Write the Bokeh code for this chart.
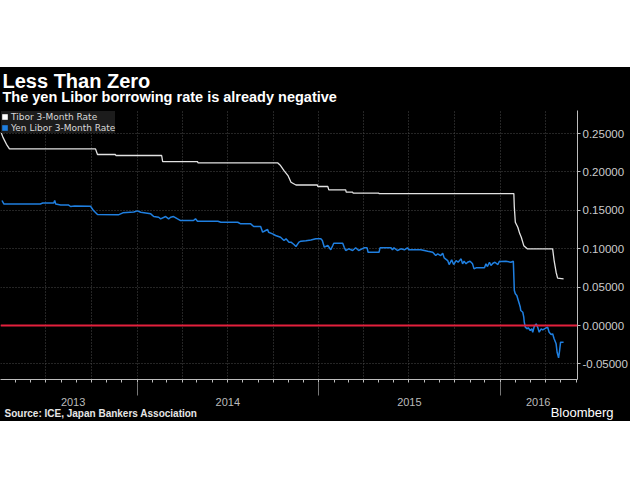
import pandas as pd
from bokeh.plotting import figure
from bokeh.layouts import column, row
from bokeh.models import (Range1d, LinearAxis, DatetimeAxis, FixedTicker, DatetimeTickFormatter,
                          NumeralTickFormatter, Grid, Span, Label, Legend, LegendItem)
from bokeh.embed import file_html
from bokeh.resources import INLINE

# ---------------- data ----------------
title_text = "Less Than Zero"
subtitle_text = "The yen Libor borrowing rate is already negative"
source_text = "Source: ICE, Japan Bankers Association"
brand_text = "Bloomberg"
series_names = ["Tibor 3-Month Rate", "Yen Libor 3-Month Rate"]

tibor_dates = ["2013-04-02", "2013-04-06", "2013-04-13", "2013-04-19", "2013-10-09", "2013-10-13",
               "2013-11-18", "2013-11-19", "2014-02-19", "2014-02-21", "2014-05-02", "2014-05-03",
               "2014-10-10", "2014-10-16", "2014-10-23", "2014-10-31", "2014-11-06", "2014-11-16",
               "2014-12-29", "2014-12-30", "2015-01-19", "2015-01-21", "2015-02-24", "2015-02-25",
               "2015-03-10", "2015-03-11", "2015-05-01", "2015-05-02", "2016-01-28", "2016-01-29",
               "2016-01-31", "2016-02-05", "2016-02-09", "2016-02-12", "2016-02-17", "2016-02-24",
               "2016-04-15", "2016-04-18", "2016-04-22", "2016-04-25", "2016-05-07"]
tibor_rates = [0.2520, 0.2450, 0.2360, 0.2300, 0.2300, 0.2227,
               0.2227, 0.2214, 0.2214, 0.2135, 0.2135, 0.2119,
               0.2119, 0.2083, 0.2018, 0.1953, 0.1866, 0.1830,
               0.1830, 0.1810, 0.1810, 0.1767, 0.1767, 0.1736,
               0.1736, 0.1725, 0.1725, 0.1718, 0.1718, 0.1540,
               0.1345, 0.1280, 0.1194, 0.1150, 0.1040, 0.0999,
               0.0999, 0.0846, 0.0694, 0.0616, 0.0608]

libor_dates = ["2013-04-04", "2013-04-08", "2013-05-11", "2013-06-20", "2013-06-25", "2013-07-17",
               "2013-07-19", "2013-07-21", "2013-07-31", "2013-08-16", "2013-08-20", "2013-08-28",
               "2013-09-29", "2013-10-05", "2013-10-13", "2013-11-24", "2013-12-03", "2013-12-25",
               "2014-01-01", "2014-01-08", "2014-01-28", "2014-02-03", "2014-02-13", "2014-02-17",
               "2014-02-27", "2014-03-05", "2014-03-09", "2014-03-15", "2014-03-23", "2014-03-29",
               "2014-04-24", "2014-04-28", "2014-05-02", "2014-06-12", "2014-06-18", "2014-07-22",
               "2014-07-28", "2014-08-17", "2014-08-23", "2014-09-06", "2014-09-10", "2014-09-16",
               "2014-09-20", "2014-09-22", "2014-09-30", "2014-10-06", "2014-10-16", "2014-10-23",
               "2014-10-27", "2014-11-02", "2014-11-06", "2014-11-12", "2014-11-16", "2014-11-22",
               "2014-11-26", "2014-12-06", "2014-12-16", "2014-12-26", "2015-01-05", "2015-01-08",
               "2015-01-12", "2015-01-19", "2015-01-25", "2015-01-29", "2015-01-31", "2015-02-18",
               "2015-02-21", "2015-02-24", "2015-03-02", "2015-03-10", "2015-03-16", "2015-03-22",
               "2015-04-02", "2015-04-08", "2015-04-10", "2015-05-02", "2015-05-04", "2015-05-26",
               "2015-05-29", "2015-06-01", "2015-06-08", "2015-06-15", "2015-06-22", "2015-06-28",
               "2015-07-01", "2015-07-25", "2015-08-01", "2015-08-08", "2015-08-18", "2015-08-24",
               "2015-08-28", "2015-09-03", "2015-09-07", "2015-09-10", "2015-09-17", "2015-09-20",
               "2015-09-25", "2015-09-29", "2015-10-04", "2015-10-08", "2015-10-14", "2015-10-17",
               "2015-10-20", "2015-10-24", "2015-10-27", "2015-11-01", "2015-11-06", "2015-11-09",
               "2015-11-13", "2015-11-30", "2015-12-03", "2015-12-06", "2015-12-10", "2015-12-13",
               "2015-12-17", "2015-12-21", "2015-12-27", "2015-12-30", "2016-01-02", "2016-01-12",
               "2016-01-22", "2016-01-27", "2016-01-29", "2016-01-31", "2016-02-03", "2016-02-06",
               "2016-02-08", "2016-02-10", "2016-02-11", "2016-02-15", "2016-02-17", "2016-02-18",
               "2016-02-20", "2016-02-24", "2016-02-26", "2016-03-01", "2016-03-04", "2016-03-06",
               "2016-03-09", "2016-03-13", "2016-03-16", "2016-03-19", "2016-03-23", "2016-03-26",
               "2016-04-02", "2016-04-05", "2016-04-08", "2016-04-12", "2016-04-15", "2016-04-18",
               "2016-04-22", "2016-04-24", "2016-04-27", "2016-04-29", "2016-05-01", "2016-05-07"]
libor_rates = [0.1628, 0.1582, 0.1582, 0.1582, 0.1595, 0.1595,
               0.1628, 0.1582, 0.1569, 0.1569, 0.1550, 0.1556,
               0.1553, 0.1497, 0.1445, 0.1441, 0.1467, 0.1478,
               0.1493, 0.1475, 0.1454, 0.1419, 0.1410, 0.1389,
               0.1419, 0.1389, 0.1410, 0.1419, 0.1389, 0.1367,
               0.1367, 0.1389, 0.1358, 0.1358, 0.1345, 0.1345,
               0.1324, 0.1324, 0.1289, 0.1289, 0.1215, 0.1237,
               0.1250, 0.1215, 0.1194, 0.1172, 0.1150, 0.1107,
               0.1129, 0.1085, 0.1085, 0.1055, 0.1029, 0.1085,
               0.1098, 0.1103, 0.1113, 0.1129, 0.1129, 0.1107,
               0.1020, 0.1042, 0.0986, 0.1042, 0.1072, 0.1072,
               0.1020, 0.0977, 0.0999, 0.0977, 0.1012, 0.0977,
               0.1012, 0.1012, 0.0954, 0.0954, 0.1012, 0.1012,
               0.0986, 0.1012, 0.0977, 0.0999, 0.0986, 0.1012,
               0.0986, 0.0986, 0.0977, 0.0967, 0.0954, 0.0911,
               0.0934, 0.0911, 0.0941, 0.0881, 0.0846, 0.0794,
               0.0855, 0.0794, 0.0846, 0.0824, 0.0868, 0.0803,
               0.0837, 0.0803, 0.0824, 0.0837, 0.0803, 0.0738,
               0.0751, 0.0751, 0.0803, 0.0768, 0.0824, 0.0781,
               0.0811, 0.0824, 0.0794, 0.0837, 0.0833, 0.0837,
               0.0824, 0.0837, 0.0456, 0.0413, 0.0391, 0.0326,
               0.0283, 0.0238, 0.0195, 0.0173, 0.0108, 0.0043,
               -0.0022, -0.0043, -0.0030, -0.0065, -0.0043, -0.0087,
               -0.0013, 0.0022, -0.0022, -0.0087, -0.0043, -0.0056,
               -0.0030, -0.0022, -0.0087, -0.0117, -0.0108, -0.0173,
               -0.0238, -0.0348, -0.0421, -0.0326, -0.0217, -0.0217]

y_ticks = [-0.05, 0.0, 0.05, 0.10, 0.15, 0.20, 0.25]
year_label_dates = ["2013-08-25", "2014-07-02", "2015-07-02", "2016-03-17"]
year_start_dates = ["2014-01-01", "2015-01-01", "2016-01-01"]
x_start, x_end = "2013-04-01", "2016-06-04"
y_min, y_max = -0.0703, 0.28

# ---------------- helpers ----------------
def ms(d):
    return pd.Timestamp(d).timestamp() * 1000.0

FONT = "Liberation Sans"
BG = "#000000"
TIBOR_COLOR = "#e2e2e2"
LIBOR_COLOR = "#1f7fe0"
GRID = "#4a4a4a"
AXIS = "#bdbdbd"
W = 630
NAN = float("nan")

month_ticks = [ms(d) for d in pd.date_range("2013-05-01", "2016-06-01", freq="MS")]
quarter_ticks = [ms(d) for d in pd.date_range("2013-07-01", "2016-04-01", freq="QS")]


def strip(height, alpha=1.0):
    f = figure(width=W, height=height, x_axis_type=None, y_axis_type=None,
               x_range=Range1d(0, 1), y_range=Range1d(0, 1),
               output_backend="svg", toolbar_location=None, min_border=0,
               background_fill_color=BG, border_fill_color=BG,
               background_fill_alpha=alpha, border_fill_alpha=alpha,
               outline_line_color=None)
    return f


# ---- header strip ----
top = strip(43)
top.add_layout(Label(x=2, y=30, x_units="screen", y_units="screen", text=title_text,
                     text_font=FONT, text_font_style="bold", text_font_size="20px",
                     text_color="#ffffff", text_baseline="middle"))
top.add_layout(Label(x=2, y=14, x_units="screen", y_units="screen", text=subtitle_text,
                     text_font=FONT, text_font_style="bold", text_font_size="14.5px",
                     text_color="#ffffff", text_baseline="middle"))

# ---- main chart ----
p = figure(frame_width=577, frame_height=269, x_axis_type=None, y_axis_location="right",
           x_range=Range1d(ms(x_start), ms(x_end)), y_range=Range1d(y_min, y_max),
           output_backend="svg", toolbar_location=None, title=None,
           background_fill_color=BG, border_fill_color=BG, outline_line_color=None,
           min_border_left=0, min_border_right=53, min_border_top=0, min_border_bottom=42)

yax = p.yaxis[0]
yax.ticker = FixedTicker(ticks=y_ticks)
yax.formatter = NumeralTickFormatter(format="0.00000")
yax.axis_line_color = AXIS
yax.major_tick_line_color = AXIS
yax.major_tick_in = 0
yax.major_tick_out = 3
yax.minor_tick_line_color = None
yax.major_label_standoff = 2
yax.major_label_text_color = "#cccccc"
yax.major_label_text_font = FONT
yax.major_label_text_font_size = "11.5px"

p.ygrid.grid_line_color = GRID
p.ygrid.grid_line_dash = "1 2"
p.add_layout(Grid(dimension=0, ticker=FixedTicker(ticks=quarter_ticks),
                  grid_line_color=GRID, grid_line_dash="1 2"))

# x axis line with monthly ticks
xax1 = LinearAxis(ticker=FixedTicker(ticks=[], minor_ticks=month_ticks))
xax1.axis_line_color = AXIS
xax1.minor_tick_line_color = AXIS
xax1.minor_tick_in = 0
xax1.minor_tick_out = 3
xax1.major_tick_out = 13
xax1.major_tick_in = 0
xax1.major_label_standoff = 0
p.add_layout(xax1, "below")

# year labels with separators
fmt = DatetimeTickFormatter(days="%Y", months="%Y", years="%Y", hours="%Y", hourmin="%Y",
                            minutes="%Y", minsec="%Y", seconds="%Y", milliseconds="%Y",
                            microseconds="%Y")
xax2 = DatetimeAxis(ticker=FixedTicker(ticks=[ms(d) for d in year_label_dates],
                                       minor_ticks=[ms(d) for d in year_start_dates]),
                    formatter=fmt)
xax2.axis_line_color = None
xax2.major_tick_line_color = None
xax2.major_tick_out = 0
xax2.major_tick_in = 0
xax2.minor_tick_line_color = "#777777"
xax2.minor_tick_in = 0
xax2.minor_tick_out = 13
xax2.major_label_standoff = 2
xax2.major_label_text_color = "#bbbbbb"
xax2.major_label_text_font = FONT
xax2.major_label_text_font_size = "11px"
p.add_layout(xax2, "below")

# zero line
p.add_layout(Span(location=0, dimension="width", line_color="#e3203d", line_width=2))

# series
p.line([ms(d) for d in tibor_dates], tibor_rates, line_color=TIBOR_COLOR, line_width=1.3)
p.line([ms(d) for d in libor_dates], libor_rates, line_color=LIBOR_COLOR, line_width=1.5)

# legend with square swatches (renderers hold a single undrawable NaN row)
sw_t = p.quad(left=[NAN], right=[NAN], top=[NAN], bottom=[NAN],
              fill_color="#ffffff", line_color=None)
sw_l = p.quad(left=[NAN], right=[NAN], top=[NAN], bottom=[NAN],
              fill_color=LIBOR_COLOR, line_color=None)
legend = Legend(items=[LegendItem(label=series_names[0], renderers=[sw_t]),
                       LegendItem(label=series_names[1], renderers=[sw_l])],
                location="top_left", margin=1, padding=3, spacing=0,
                glyph_width=7, glyph_height=7, label_height=11, label_standoff=3,
                label_text_font="DejaVu Sans", label_text_font_size="9px",
                label_text_color="#d8d8d8",
                background_fill_color="#1c1c1c", background_fill_alpha=1.0,
                border_line_color=None)
p.add_layout(legend)

# ---- footer strip (transparent, overlapping the bottom of the chart) ----
FOOT_H = 22
bottom = strip(FOOT_H, alpha=0.0)
bottom.add_layout(Label(x=4, y=8, x_units="screen", y_units="screen", text=source_text,
                        text_font=FONT, text_font_style="bold", text_font_size="10px",
                        text_color="#e6e6e6", text_baseline="middle"))
bottom.add_layout(Label(x=613, y=9.5, x_units="screen", y_units="screen", text=brand_text,
                        text_font=FONT, text_font_size="13px", text_color="#ffffff",
                        text_align="right", text_baseline="middle"))
foot = row(bottom)
foot.margin = (-FOOT_H, 0, 0, 0)

layout = column(row(top), p, foot, spacing=0)
layout.margin = (67, 0, 0, 0)
layout.styles = {"background-color": BG}

open("out.html", "w").write(file_html(layout, INLINE))
